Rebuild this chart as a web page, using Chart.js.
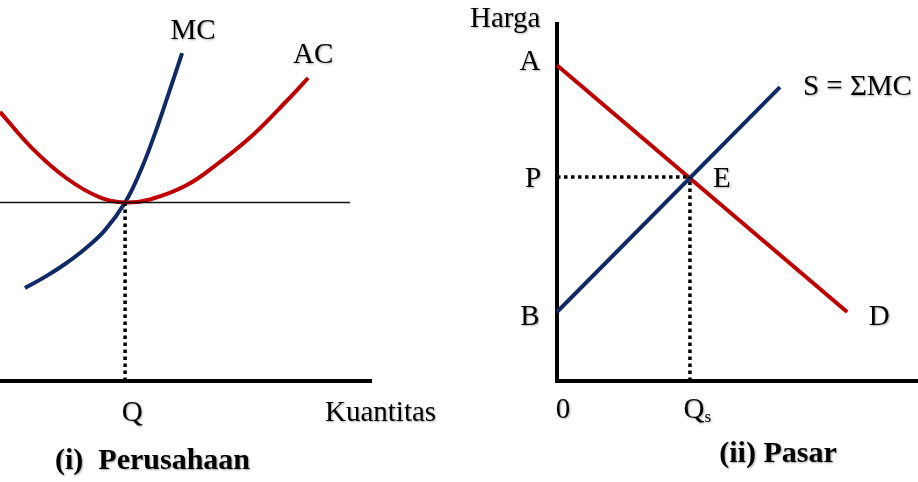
<!DOCTYPE html>
<html>
<head>
<meta charset="utf-8">
<script src="https://cdn.jsdelivr.net/npm/chart.js@4"></script>
<style>
  body { margin: 0; background: #fff; }
  #wrap { position: relative; width: 918px; height: 482px; overflow: hidden; }
  canvas { position: absolute; top: 0; }
  #firm { left: 0; }
  #market { left: 460px; }
</style>
</head>
<body>
<div id="wrap">
  <canvas id="firm" width="460" height="482"></canvas>
  <canvas id="market" width="458" height="482"></canvas>
</div>
<script>
// (i) Perusahaan : kurva MC dan AC (satuan bebas)
const mcCurve = [
  { x: 0.83, y: 3.10 }, { x: 1.50, y: 3.47 }, { x: 2.17, y: 3.90 },
  { x: 2.83, y: 4.40 }, { x: 3.50, y: 5.03 }, { x: 4.17, y: 5.95 },
  { x: 4.67, y: 6.97 }, { x: 5.10, y: 8.07 }, { x: 5.57, y: 9.43 },
  { x: 6.07, y: 10.93 }
];
const acCurve = [
  { x: 0.00, y: 8.97 }, { x: 1.10, y: 7.73 }, { x: 2.23, y: 6.75 },
  { x: 3.33, y: 6.12 }, { x: 4.17, y: 5.95 }, { x: 5.00, y: 6.05 },
  { x: 6.23, y: 6.53 }, { x: 7.33, y: 7.30 }, { x: 8.43, y: 8.20 },
  { x: 9.57, y: 9.35 }, { x: 10.27, y: 10.10 }
];
const firmQ = 4.17;
const firmMinAC = 5.95;
const firmAxisEnd = 12.4;
const firmPriceLineEnd = 11.67;

// (ii) Pasar : permintaan D dan penawaran S = ΣMC
const demandLine = [{ x: 0, y: 10.53 }, { x: 9.67, y: 2.30 }];
const supplyLine = [{ x: 0, y: 2.30 }, { x: 7.43, y: 9.80 }];
const eqQ = 4.43;   // Qs
const eqP = 6.80;   // P
const marketXEnd = 12.03;
const marketYEnd = 11.97;

const RED = '#c00000';
const BLUE = '#0f2a66';
const FONT = "'Liberation Serif', 'Times New Roman', serif";

function seg(data, color, width, extra) {
  return Object.assign({
    data: data,
    borderColor: color,
    borderWidth: width,
    showLine: true,
    pointRadius: 0,
    fill: false,
    clip: false,
    tension: 0
  }, extra || {});
}

// draws the letters (A, P, E, Q ...) next to data points
function textPlugin(labels) {
  return {
    id: 'texts',
    afterDatasetsDraw(chart) {
      const ctx = chart.ctx;
      const xs = chart.scales.x, ys = chart.scales.y;
      ctx.save();
      ctx.fillStyle = '#000';
      ctx.shadowColor = 'rgba(0,0,0,0.35)';
      ctx.shadowBlur = 2;
      ctx.shadowOffsetX = 1;
      ctx.shadowOffsetY = 1;
      labels.forEach(l => {
        let px, py;
        if (l.px !== undefined) { px = l.px; py = l.py; }
        else {
          px = xs.getPixelForValue(l.x) + (l.dx || 0);
          py = ys.getPixelForValue(l.y) + (l.dy || 0);
        }
        ctx.font = (l.bold ? 'bold ' : '') + (l.size || 29) + 'px ' + FONT;
        ctx.textAlign = l.align || 'center';
        ctx.textBaseline = 'alphabetic';
        ctx.fillText(l.text, px, py);
        if (l.sub) {
          const w = ctx.measureText(l.text).width;
          ctx.font = '17px ' + FONT;
          ctx.textAlign = 'left';
          ctx.fillText(l.sub, px + w / 2, py + 4);
        }
      });
      ctx.restore();
    }
  };
}

const baseOptions = (padding, xMax, yMax) => ({
  responsive: false,
  animation: false,
  devicePixelRatio: 1,
  events: [],
  layout: { padding: padding },
  plugins: { legend: { display: false }, tooltip: { enabled: false } },
  scales: {
    x: { type: 'linear', display: false, min: 0, max: xMax },
    y: { type: 'linear', display: false, min: 0, max: yMax }
  }
});

// ---- panel (i)
const firmLabels = [
  { text: 'MC', x: mcCurve[mcCurve.length - 1].x, y: mcCurve[mcCurve.length - 1].y, dx: 11, dy: -14 },
  { text: 'AC', x: acCurve[acCurve.length - 1].x, y: acCurve[acCurve.length - 1].y, dx: 5, dy: -15 },
  { text: 'Q', x: firmQ, y: 0, dx: 7, dy: 40 },
  { text: 'Kuantitas', x: firmAxisEnd, y: 0, dx: -47, dy: 40, align: 'left' },
  { text: '(i)  Perusahaan', px: 55, py: 469, align: 'left', bold: true, size: 30 }
];

new Chart(document.getElementById('firm'), {
  type: 'scatter',
  data: {
    datasets: [
      seg([{ x: 0, y: 0 }, { x: firmAxisEnd, y: 0 }], '#000', 4),
      seg([{ x: 0, y: firmMinAC }, { x: firmPriceLineEnd, y: firmMinAC }], '#111', 1.3),
      seg([{ x: firmQ, y: 0 }, { x: firmQ, y: firmMinAC }], '#000', 3.5, { borderDash: [3.5, 3.5] }),
      seg(acCurve, RED, 4, { tension: 0.4 }),
      seg(mcCurve, BLUE, 4, { tension: 0.4 })
    ]
  },
  options: baseOptions({ left: 0, top: 0, right: 88, bottom: 101 }, 12.4, 12.7),
  plugins: [textPlugin(firmLabels)]
});

// ---- panel (ii)
const marketLabels = [
  { text: 'Harga', x: 0, y: marketYEnd, dx: -87, dy: 5, align: 'left' },
  { text: 'A', x: 0, y: demandLine[0].y, dx: -27, dy: 5 },
  { text: 'P', x: 0, y: eqP, dx: -24, dy: 10 },
  { text: 'B', x: 0, y: supplyLine[0].y, dx: -27, dy: 13 },
  { text: 'E', x: eqQ, y: eqP, dx: 32, dy: 10 },
  { text: 'D', x: demandLine[1].x, y: demandLine[1].y, dx: 32, dy: 13 },
  { text: 'S = ΣMC', x: supplyLine[1].x, y: supplyLine[1].y, dx: 23, dy: 8, align: 'left' },
  { text: '0', x: 0, y: 0, dx: 6, dy: 37 },
  { text: 'Q', sub: 's', x: eqQ, y: 0, dx: 4, dy: 37 },
  { text: '(ii) Pasar', px: 318, py: 462, bold: true, size: 30 }
];

new Chart(document.getElementById('market'), {
  type: 'scatter',
  data: {
    datasets: [
      seg([{ x: 0, y: eqP }, { x: eqQ, y: eqP }], '#000', 3.5, { borderDash: [3.5, 3.5] }),
      seg([{ x: eqQ, y: 0 }, { x: eqQ, y: eqP }], '#000', 3.5, { borderDash: [3.5, 3.5] }),
      seg(supplyLine, BLUE, 4),
      seg(demandLine, RED, 4),
      seg([{ x: 0, y: marketYEnd }, { x: 0, y: 0 }, { x: marketXEnd, y: 0 }], '#000', 4)
    ]
  },
  options: baseOptions({ left: 97, top: 22, right: 0, bottom: 101 }, marketXEnd, marketYEnd),
  plugins: [textPlugin(marketLabels)]
});
</script>
</body>
</html>
